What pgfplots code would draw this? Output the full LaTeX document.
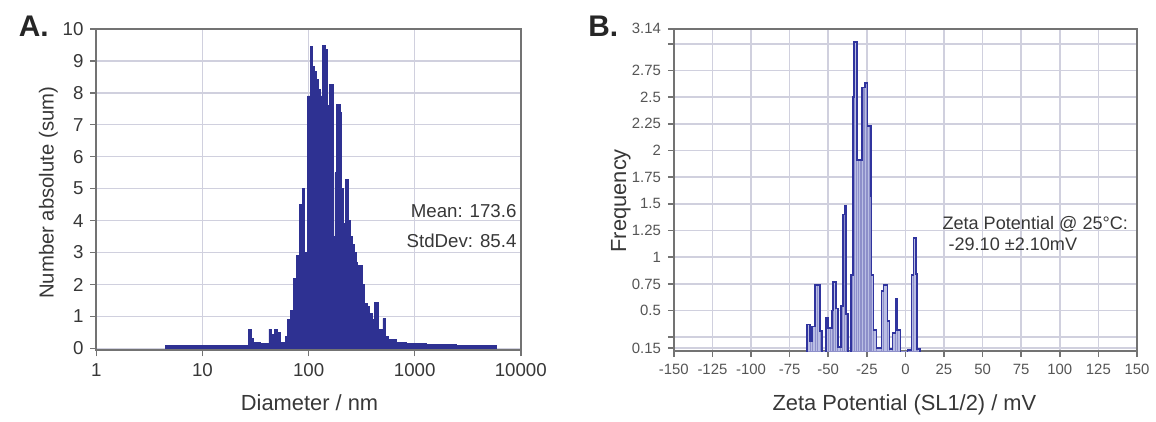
\documentclass[border=0pt]{standalone}
\usepackage{pgfplots}
\pgfplotsset{compat=1.18}
\usepackage{fontspec}
\setmainfont{Liberation Sans}
\definecolor{abar}{RGB}{46,49,146}
\definecolor{bline}{RGB}{48,52,158}
\definecolor{bfill}{RGB}{186,190,228}
\definecolor{gridc}{RGB}{208,208,222}
\definecolor{framec}{RGB}{115,115,115}
\definecolor{txt}{RGB}{55,55,55}
\begin{document}
\begin{tikzpicture}[x=1pt,y=1pt]
\path (0,0) rectangle (578,210);
% ---------------- Panel A ----------------
\begin{axis}[
  at={(48.5pt,33.75pt)}, anchor=south west,
  scale only axis, width=213.5pt, height=161.75pt,
  xmode=log, xmin=1, xmax=10000, ymin=-0.06, ymax=10,
  xtick={1,10,100,1000,10000}, xticklabels={1,10,100,1000,10000},
  xminorticks=false,
  ytick={0,1,2,3,4,5,6,7,8,9,10},
  yticklabels={0,1,2,3,4,5,6,7,8,9,10},
  grid=major, major grid style={gridc, line width=0.8pt},
  axis line style={framec, line width=1pt},
  tick align=outside, tick pos=left,
  tick style={framec, line width=0.8pt}, major tick length=3pt,
  ticklabel style={font=\fontsize{9.4}{10}\selectfont, text=txt},
  /pgf/number format/assume math mode=true,
]
\addplot[const plot mark left, fill=abar, draw=abar, line width=0.4pt] coordinates {
(4.51,0.09) (23.1,0.1) (26.9,0.6) (28.7,0.3) (30.0,0.2) (34.9,0.15) (42.3,0.6)
(44.2,0.45) (46.1,0.28) (48.1,0.58) (51.3,0.5) (54.7,0.2) (61.0,0.37) (63.6,0.9)
(67.9,1.2) (72.4,2.2) (77.2,2.9)
(82.4,4.5) (87.9,5.0) (91.8,3.0) (97.9,7.9) (103.7,9.45) (109.7,8.83) (114.6,8.68)
(119.6,8.42) (124.8,8.1) (130.3,7.9) (135.1,9.48) (145.1,9.35) (150.6,7.6)
(158.2,8.27) (171.4,3.5) (177.0,5.5) (183.7,7.62) (197.6,7.39) (203.2,5.0)
(212.3,3.9) (223.2,5.3) (236.6,4.0) (247.2,3.5) (257.7,3.25) (269.1,3.0)
(281.0,2.7) (287.1,2.6) (319.9,2.0) (333.7,1.4) (355.8,1.3) (371.5,1.1)
(396.4,0.9) (413.9,1.45) (450.8,0.6) (502.5,0.93) (524.5,0.37) (559.8,0.27)
(678.6,0.2) (841.9,0.15) (1294,0.12) (2471,0.1) (3795,0.08) (5840,0.08)
} \closedcycle;
\node[anchor=east, font=\fontsize{9.4}{10}\selectfont, text=txt, inner sep=0pt, xshift=-2pt] at (axis cs:10000,4.3) {Mean: 173.6};
\node[anchor=east, font=\fontsize{9.4}{10}\selectfont, text=txt, inner sep=0pt, xshift=-2pt] at (axis cs:10000,3.37) {StdDev: 85.4};
\end{axis}
% ---------------- Panel B ----------------
\begin{axis}[
  at={(339pt,33.35pt)}, anchor=south west,
  scale only axis, width=233pt, height=162.15pt,
  xmin=-150, xmax=150, ymin=0.12, ymax=3.14,
  xtick={-150,-125,-100,-75,-50,-25,0,25,50,75,100,125,150},
  xticklabels={-150,-125,-100,-75,-50,-25,0,25,50,75,100,125,150},
  ytick={0.15,0.25,0.5,0.75,1,1.25,1.5,1.75,2,2.25,2.5,2.75,3,3.14},
  yticklabels={0.15,,0.5,0.75,1,1.25,1.5,1.75,2,2.25,2.5,2.75,,3.14},
  grid=major, major grid style={gridc, line width=0.8pt},
  axis line style={framec, line width=1pt},
  tick align=outside, tick pos=left,
  tick style={framec, line width=0.8pt}, major tick length=3pt,
  ticklabel style={font=\fontsize{7.5}{8}\selectfont, text=txt!85},
]
\addplot[ybar interval, fill=bfill, draw=bline!55, line width=0.3pt] coordinates {
(-63.9,0.37) (-61.8,0.21) (-60.5,0.35) (-58.6,0.74) (-57.0,0.74) (-55.4,0.31)
(-54.1,0) (-51.5,0.43) (-50.2,0.34) (-48.9,0.34) (-47.6,0.5) (-47.0,0.77)
(-45.1,0.52) (-43.8,0.16) (-41.9,0.54) (-40.6,1.40) (-39.5,1.48) (-38.6,0.47)
(-37.3,0) (-35.4,0.83) (-34.1,2.5) (-33.3,3.02) (-31.6,1.91) (-30.5,1.91)
(-29.4,1.91) (-28.3,2.59) (-27.3,2.59) (-26.4,2.63) (-25.4,2.63) (-24.5,2.23)
(-23.5,2.23) (-22.5,1.57) (-21.9,0.83) (-20.6,0.32) (-18.7,0.15) (-15.5,0.68)
(-14.2,0.74) (-11.6,0.40) (-10.3,0.14) (-8.4,0.29) (-6.4,0.61) (-5.2,0.32)
(-3.2,0) (1.3,0.13) (3.9,0.83) (5.2,1.18) (7.1,0.84) (7.7,0.14) (9.7,0)
};
\addplot[const plot mark left, draw=bline, line width=0.9pt] coordinates {
(-63.9,0) (-63.9,0.37) (-61.8,0.21) (-60.5,0.35) (-58.6,0.74) (-55.4,0.31)
(-54.1,0) (-51.5,0.43) (-50.2,0.34) (-47.6,0.5) (-47.0,0.77)
(-45.1,0.52) (-43.8,0.16) (-41.9,0.54) (-40.6,1.40) (-39.5,1.48) (-38.6,0.47)
(-37.3,0) (-35.4,0.83) (-34.1,2.5) (-33.3,3.02) (-31.6,1.91)
(-28.3,2.59) (-26.4,2.63) (-24.5,2.23)
(-22.5,1.57) (-21.9,0.83) (-20.6,0.32) (-18.7,0.15) (-15.5,0.68)
(-14.2,0.74) (-11.6,0.40) (-10.3,0.14) (-8.4,0.29) (-6.4,0.61) (-5.2,0.32)
(-3.2,0) (1.3,0.13) (3.9,0.83) (5.2,1.18) (7.1,0.84) (7.7,0.14) (9.7,0)
};
\node[anchor=west, font=\fontsize{9.1}{10}\selectfont, text=txt, inner sep=0pt] at (axis cs:23.8,1.307) {Zeta Potential @ 25°C:};
\node[anchor=west, font=\fontsize{9.1}{10}\selectfont, text=txt, inner sep=0pt] at (axis cs:27.7,1.12) {-29.10 ±2.10mV};
\end{axis}
% ---------------- Labels ----------------
\node[anchor=base west, font=\bfseries\fontsize{15}{15}\selectfont, text=black!85] at (6,191.5) {A.};
\node[anchor=base west, font=\bfseries\fontsize{15}{15}\selectfont, text=black!85] at (292.5,191.5) {B.};
\node[anchor=base, font=\fontsize{11}{12}\selectfont, text=txt] at (155.75,3.5) {Diameter / nm};
\node[anchor=base, font=\fontsize{11}{12}\selectfont, text=txt] at (455,3.5) {Zeta Potential (SL1/2) / mV};
\node[anchor=base, rotate=90, font=\fontsize{10.2}{12}\selectfont, text=txt] at (27,113) {Number absolute (sum)};
\node[anchor=base, rotate=90, font=\fontsize{11}{12}\selectfont, text=txt] at (315,109) {Frequency};
\end{tikzpicture}
\end{document}
